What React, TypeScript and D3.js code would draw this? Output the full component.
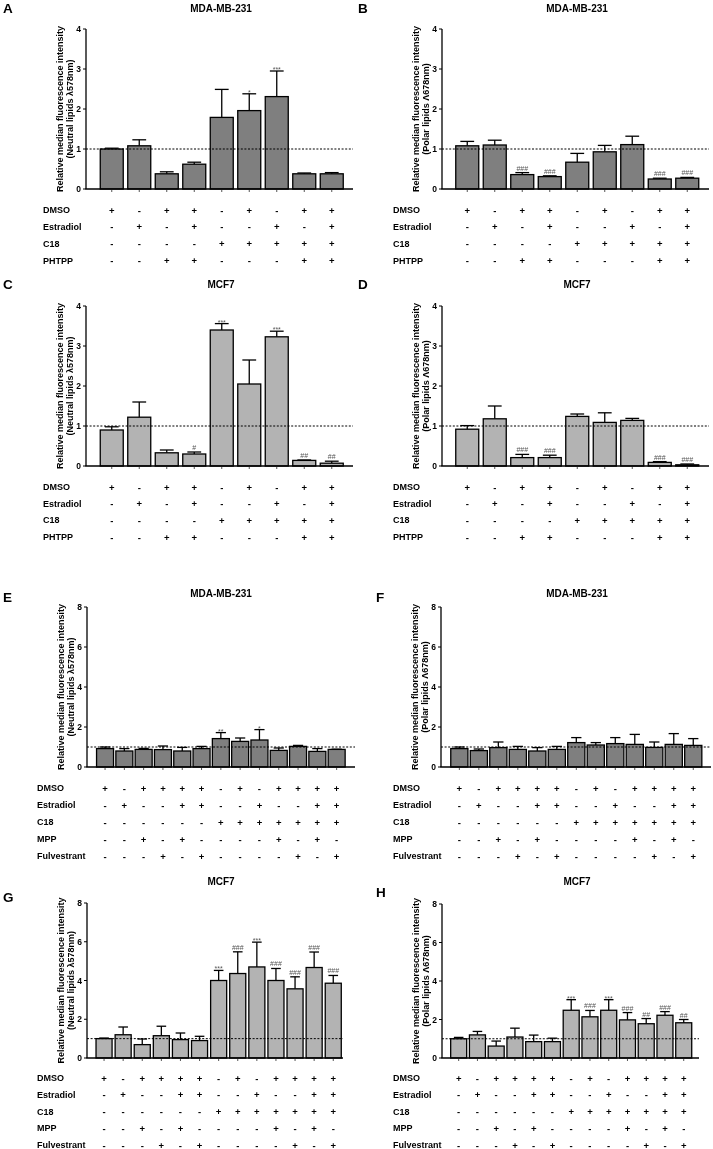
import React from "react";
import * as d3 from "d3";

// ---------- data ----------
const groupsPHTPP = ["DMSO", "Estradiol", "C18", "PHTPP"];
const treatPHTPP = [
  ["+", "-", "+", "+", "-", "+", "-", "+", "+"],
  ["-", "+", "-", "+", "-", "-", "+", "-", "+"],
  ["-", "-", "-", "-", "+", "+", "+", "+", "+"],
  ["-", "-", "+", "+", "-", "-", "-", "+", "+"],
];
const groupsMPP = ["DMSO", "Estradiol", "C18", "MPP", "Fulvestrant"];
const treatMPP = [
  ["+", "-", "+", "+", "+", "+", "-", "+", "-", "+", "+", "+", "+"],
  ["-", "+", "-", "-", "+", "+", "-", "-", "+", "-", "-", "+", "+"],
  ["-", "-", "-", "-", "-", "-", "+", "+", "+", "+", "+", "+", "+"],
  ["-", "-", "+", "-", "+", "-", "-", "-", "-", "+", "-", "+", "-"],
  ["-", "-", "-", "+", "-", "+", "-", "-", "-", "-", "+", "-", "+"],
];

const ticks4 = [0, 1, 2, 3, 4];
const ticks8 = [0, 2, 4, 6, 8];

const meanA = [1.0, 1.08, 0.38, 0.62, 1.79, 1.96, 2.31, 0.38, 0.38];
const semA = [0.02, 0.15, 0.05, 0.05, 0.7, 0.42, 0.64, 0.02, 0.03];
const sigA = ["", "", "", "", "", "*", "***", "", ""];

const meanB = [1.08, 1.1, 0.36, 0.31, 0.67, 0.93, 1.11, 0.25, 0.27];
const semB = [0.11, 0.12, 0.05, 0.02, 0.22, 0.16, 0.21, 0.02, 0.02];
const sigB = ["", "", "###", "###", "", "", "", "###", "###"];

const meanC = [0.9, 1.22, 0.33, 0.3, 3.4, 2.05, 3.23, 0.14, 0.07];
const semC = [0.08, 0.38, 0.07, 0.05, 0.16, 0.6, 0.14, 0.01, 0.05];
const sigC = ["", "", "", "#", "***", "", "***", "##", "##"];

const meanD = [0.92, 1.18, 0.21, 0.21, 1.24, 1.09, 1.14, 0.09, 0.03];
const semD = [0.09, 0.32, 0.08, 0.06, 0.06, 0.24, 0.05, 0.02, 0.02];
const sigD = ["", "", "###", "###", "", "", "", "###", "###"];

const meanE = [0.92, 0.8, 0.88, 0.87, 0.8, 0.92, 1.42, 1.28, 1.35, 0.83, 1.03, 0.78, 0.88];
const semE = [0.08, 0.12, 0.05, 0.18, 0.18, 0.11, 0.3, 0.17, 0.52, 0.12, 0.05, 0.14, 0.01];
const sigE = ["", "", "", "", "", "", "**", "", "*", "", "", "", ""];

const meanF = [0.92, 0.82, 0.97, 0.88, 0.8, 0.88, 1.22, 1.1, 1.17, 1.13, 0.98, 1.13, 1.08];
const semF = [0.08, 0.08, 0.28, 0.15, 0.17, 0.15, 0.25, 0.12, 0.3, 0.5, 0.27, 0.54, 0.34];
const sigF = ["", "", "", "", "", "", "", "", "", "", "", "", ""];

const meanG = [1.0, 1.2, 0.69, 1.15, 0.95, 0.9, 4.0, 4.36, 4.7, 4.0, 3.57, 4.67, 3.86];
const semG = [0.03, 0.4, 0.29, 0.49, 0.34, 0.22, 0.52, 1.12, 1.28, 0.62, 0.62, 0.8, 0.4];
const sigG = ["", "", "", "", "", "", "***", "###", "***", "###", "###", "###", "###"];

const meanH = [1.0, 1.2, 0.62, 1.09, 0.85, 0.85, 2.48, 2.14, 2.48, 1.98, 1.78, 2.22, 1.83];
const semH = [0.07, 0.18, 0.26, 0.46, 0.34, 0.18, 0.55, 0.33, 0.55, 0.38, 0.27, 0.19, 0.17];
const sigH = ["", "", "", "", "", "", "***", "###", "***", "###", "##", "###", "##"];

const yLabel1 = "Relative median fluorescence intensity";
const yLabelNeutral = "(Neutral lipids \u03bb578nm)";
const yLabelPolar = "(Polar lipids \u039b678nm)";

const DARK = "#7f7f7f";
const LIGHT = "#b3b3b3";
const FONT = "'Liberation Sans', Arial, sans-serif";

type PanelCfg = {
  letter: string;
  letterX: number;
  letterY: number;
  title: string;
  titleX: number;
  titleY: number;
  axisX: number;
  xEnd: number;
  bandStart: number;
  bandEnd: number;
  pad: number;
  yMax: number;
  yTop: number;
  y0: number;
  ticks: number[];
  means: number[];
  sems: number[];
  sigs: string[];
  color: string;
  yLab2: string;
  groups: string[];
  treat: string[][];
  rowX: number;
  rowFirst: number;
  rowLast: number;
};

function Panel({ c }: { c: PanelCfg }) {
  const n = c.means.length;
  const x = d3
    .scaleBand<number>()
    .domain(d3.range(n))
    .range([c.bandStart, c.bandEnd])
    .paddingInner(c.pad)
    .paddingOuter(c.pad / 2);
  const y = d3.scaleLinear().domain([0, c.yMax]).range([c.y0, c.yTop]);
  const rowY = d3.scalePoint<string>().domain(c.groups).range([c.rowFirst, c.rowLast]);
  const bw = x.bandwidth();
  const cap = bw * 0.6;
  const midY = (c.yTop + c.y0) / 2;
  return (
    <g fontFamily={FONT} fontWeight="bold">
      <text x={c.letterX} y={c.letterY} fontSize={13.5}>
        {c.letter}
      </text>
      <text x={c.titleX} y={c.titleY} fontSize={10} textAnchor="middle">
        {c.title}
      </text>
      <text
        transform={`translate(${c.axisX - 26.5},${midY}) rotate(-90)`}
        fontSize={9}
        textAnchor="middle"
        dominantBaseline="central"
      >
        {yLabel1}
      </text>
      <text
        transform={`translate(${c.axisX - 16},${midY}) rotate(-90)`}
        fontSize={9}
        textAnchor="middle"
        dominantBaseline="central"
      >
        {c.yLab2}
      </text>
      {c.ticks.map((t) => (
        <g key={t}>
          <line x1={c.axisX - 3} x2={c.axisX} y1={y(t)} y2={y(t)} stroke="#000" strokeWidth={1} />
          <text x={c.axisX - 5} y={y(t)} fontSize={8.5} textAnchor="end" dominantBaseline="central">
            {t}
          </text>
        </g>
      ))}
      {c.means.map((m, i) => {
        const cx = (x(i) as number) + bw / 2;
        const top = y(c.means[i] + c.sems[i]);
        const sig = c.sigs[i];
        const sy = sig.includes("*") ? top + 1 : top - 2;
        return (
          <g key={i}>
            <line x1={cx} x2={cx} y1={y(m)} y2={top} stroke="#000" strokeWidth={1.3} />
            <line x1={cx - cap / 2} x2={cx + cap / 2} y1={top} y2={top} stroke="#000" strokeWidth={1.3} />
            <rect
              x={x(i)}
              y={y(m)}
              width={bw}
              height={c.y0 - y(m)}
              fill={c.color}
              stroke="#000"
              strokeWidth={1.3}
            />
            {sig && (
              <text x={cx} y={sy} fontSize={7} fontWeight="normal" fill="#555" textAnchor="middle">
                {sig}
              </text>
            )}
            <line x1={cx} x2={cx} y1={c.y0} y2={c.y0 + 3} stroke="#555" strokeWidth={1} />
          </g>
        );
      })}
      <line
        x1={c.axisX}
        x2={c.xEnd}
        y1={y(1)}
        y2={y(1)}
        stroke="#000"
        strokeWidth={1}
        strokeDasharray="2,1.6"
      />
      <line x1={c.axisX} x2={c.axisX} y1={c.yTop} y2={c.y0} stroke="#000" strokeWidth={1.3} />
      <line x1={c.axisX - 0.6} x2={c.xEnd} y1={c.y0} y2={c.y0} stroke="#000" strokeWidth={1.6} />
      {c.groups.map((g, r) => (
        <g key={g}>
          <text x={c.rowX} y={rowY(g)} fontSize={9} dominantBaseline="central">
            {g}
          </text>
          {c.treat[r].map((s, i) => (
            <text
              key={i}
              x={(x(i) as number) + bw / 2}
              y={rowY(g)}
              fontSize={9.5}
              textAnchor="middle"
              dominantBaseline="central"
            >
              {s}
            </text>
          ))}
        </g>
      ))}
    </g>
  );
}

const panels: PanelCfg[] = [
  {
    letter: "A", letterX: 3, letterY: 13, title: "MDA-MB-231", titleX: 221, titleY: 12,
    axisX: 86, xEnd: 353, bandStart: 98, bandEnd: 345.5, pad: 0.164,
    yMax: 4, yTop: 29, y0: 189, ticks: ticks4,
    means: meanA, sems: semA, sigs: sigA, color: DARK, yLab2: yLabelNeutral,
    groups: groupsPHTPP, treat: treatPHTPP, rowX: 43, rowFirst: 210, rowLast: 260.5,
  },
  {
    letter: "B", letterX: 358, letterY: 13, title: "MDA-MB-231", titleX: 577, titleY: 12,
    axisX: 442, xEnd: 709, bandStart: 453.5, bandEnd: 701, pad: 0.164,
    yMax: 4, yTop: 29, y0: 189, ticks: ticks4,
    means: meanB, sems: semB, sigs: sigB, color: DARK, yLab2: yLabelPolar,
    groups: groupsPHTPP, treat: treatPHTPP, rowX: 393, rowFirst: 210, rowLast: 260.5,
  },
  {
    letter: "C", letterX: 3, letterY: 289, title: "MCF7", titleX: 221, titleY: 288,
    axisX: 86, xEnd: 353, bandStart: 98, bandEnd: 345.5, pad: 0.164,
    yMax: 4, yTop: 306, y0: 466, ticks: ticks4,
    means: meanC, sems: semC, sigs: sigC, color: LIGHT, yLab2: yLabelNeutral,
    groups: groupsPHTPP, treat: treatPHTPP, rowX: 43, rowFirst: 487, rowLast: 537,
  },
  {
    letter: "D", letterX: 358, letterY: 289, title: "MCF7", titleX: 577, titleY: 288,
    axisX: 442, xEnd: 709, bandStart: 453.5, bandEnd: 701, pad: 0.164,
    yMax: 4, yTop: 306, y0: 466, ticks: ticks4,
    means: meanD, sems: semD, sigs: sigD, color: LIGHT, yLab2: yLabelPolar,
    groups: groupsPHTPP, treat: treatPHTPP, rowX: 393, rowFirst: 487, rowLast: 537,
  },
  {
    letter: "E", letterX: 3, letterY: 602, title: "MDA-MB-231", titleX: 221, titleY: 597,
    axisX: 87, xEnd: 355, bandStart: 95.4, bandEnd: 346.3, pad: 0.12,
    yMax: 8, yTop: 607, y0: 767, ticks: ticks8,
    means: meanE, sems: semE, sigs: sigE, color: DARK, yLab2: yLabelNeutral,
    groups: groupsMPP, treat: treatMPP, rowX: 37, rowFirst: 788, rowLast: 856,
  },
  {
    letter: "F", letterX: 376, letterY: 602, title: "MDA-MB-231", titleX: 577, titleY: 597,
    axisX: 441, xEnd: 711, bandStart: 449.6, bandEnd: 703, pad: 0.12,
    yMax: 8, yTop: 607, y0: 767, ticks: ticks8,
    means: meanF, sems: semF, sigs: sigF, color: DARK, yLab2: yLabelPolar,
    groups: groupsMPP, treat: treatMPP, rowX: 393, rowFirst: 788, rowLast: 856,
  },
  {
    letter: "G", letterX: 3, letterY: 902, title: "MCF7", titleX: 221, titleY: 885,
    axisX: 87, xEnd: 343, bandStart: 94.5, bandEnd: 342.8, pad: 0.16,
    yMax: 8, yTop: 903, y0: 1058, ticks: ticks8,
    means: meanG, sems: semG, sigs: sigG, color: LIGHT, yLab2: yLabelNeutral,
    groups: groupsMPP, treat: treatMPP, rowX: 37, rowFirst: 1078, rowLast: 1145,
  },
  {
    letter: "H", letterX: 376, letterY: 897, title: "MCF7", titleX: 577, titleY: 885,
    axisX: 442, xEnd: 699, bandStart: 449.3, bandEnd: 693.1, pad: 0.147,
    yMax: 8, yTop: 904, y0: 1058, ticks: ticks8,
    means: meanH, sems: semH, sigs: sigH, color: LIGHT, yLab2: yLabelPolar,
    groups: groupsMPP, treat: treatMPP, rowX: 393, rowFirst: 1078, rowLast: 1145,
  },
];

export default function App() {
  return (
    <svg
      width={713}
      height={1149}
      viewBox="0 0 713 1149"
      style={{ position: "absolute", left: 0, top: 0, display: "block", willChange: "transform" }}
    >
      <rect x={0} y={0} width={713} height={1149} fill="#fff" />
      {panels.map((p) => (
        <Panel key={p.letter} c={p} />
      ))}
    </svg>
  );
}
